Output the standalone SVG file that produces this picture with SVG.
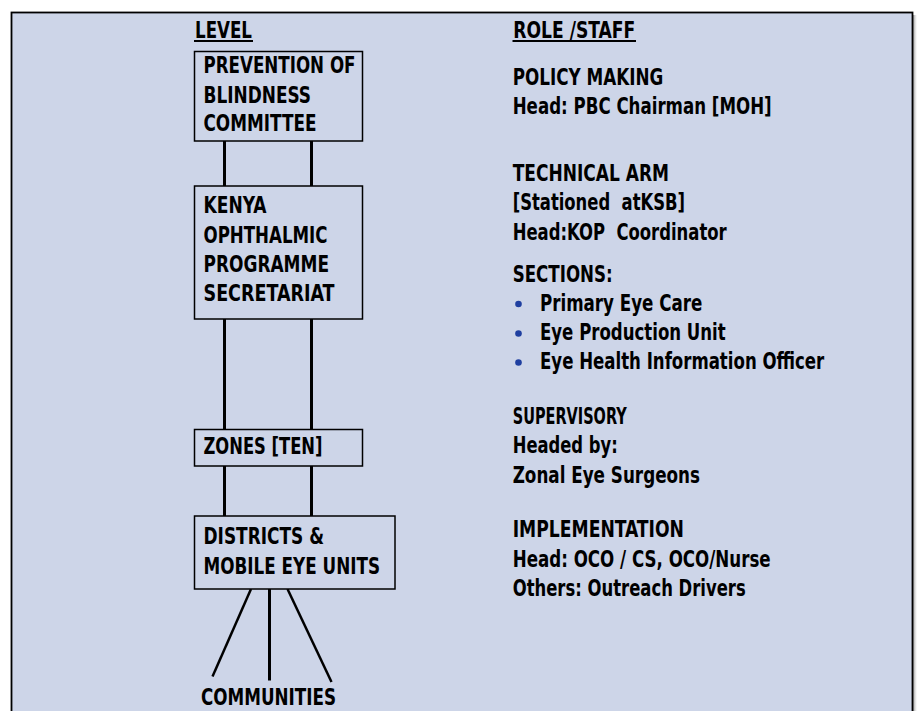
<svg xmlns="http://www.w3.org/2000/svg" width="917" height="711" viewBox="0 0 917 711">
<defs>
<linearGradient id="sh" x1="0" x2="1" y1="0" y2="0">
<stop offset="0" stop-color="#555" stop-opacity="0.6"/>
<stop offset="1" stop-color="#999" stop-opacity="0"/>
</linearGradient>
</defs>
<style>
text{font-family:"Liberation Sans Narrow","Arial Narrow","DejaVu Sans Condensed","Roboto Condensed","Liberation Sans",sans-serif;font-stretch:condensed;font-weight:bold;font-size:22.5px;fill:#000;white-space:pre}
.box{fill:#CDD5E8;stroke:#000;stroke-width:1.5}
.c{stroke:#000;stroke-width:3;fill:none}
.d{stroke:#000;stroke-width:2.5;fill:none}
.u{stroke:#000;stroke-width:2}
.b{fill:#1F3FA0}
</style>
<rect x="0" y="0" width="917" height="711" fill="#fff"/>
<rect x="913" y="15" width="4" height="696" fill="url(#sh)"/>
<rect x="11.5" y="12.5" width="901" height="710" fill="#CDD5E8" stroke="#000" stroke-width="1.8"/>

<g id="headers">
<text x="195" y="37.7" textLength="57" lengthAdjust="spacingAndGlyphs">LEVEL</text>
<line class="u" x1="194" y1="41" x2="253" y2="41"/>
<text x="513.3" y="37.7" textLength="122" lengthAdjust="spacingAndGlyphs">ROLE /STAFF</text>
<line class="u" x1="512.5" y1="41" x2="636" y2="41"/>
</g>

<g id="connectors">
<line class="c" x1="224.5" y1="141" x2="224.5" y2="186"/>
<line class="c" x1="311.5" y1="141" x2="311.5" y2="186"/>
<line class="c" x1="224.5" y1="319" x2="224.5" y2="429.5"/>
<line class="c" x1="311.5" y1="319" x2="311.5" y2="429.5"/>
<line class="c" x1="224.5" y1="466" x2="224.5" y2="516"/>
<line class="c" x1="311.5" y1="466" x2="311.5" y2="516"/>
<line class="d" x1="251" y1="589" x2="212.5" y2="676.5"/>
<line class="c" x1="269.5" y1="589" x2="269.5" y2="680.5"/>
<line class="d" x1="287.5" y1="589" x2="331.5" y2="682"/>
</g>

<g id="pbc">
<rect class="box" x="194.5" y="51.5" width="168" height="89.5"/>
<text x="203.5" y="73.3" textLength="152" lengthAdjust="spacingAndGlyphs">PREVENTION OF</text>
<text x="203.5" y="102.5" textLength="107.5" lengthAdjust="spacingAndGlyphs">BLINDNESS</text>
<text x="203.5" y="131" textLength="113" lengthAdjust="spacingAndGlyphs">COMMITTEE</text>
</g>

<g id="kop">
<rect class="box" x="194.5" y="186" width="168" height="133"/>
<text x="203.5" y="213.3" textLength="63" lengthAdjust="spacingAndGlyphs">KENYA</text>
<text x="203.5" y="242.5" textLength="124" lengthAdjust="spacingAndGlyphs">OPHTHALMIC</text>
<text x="203.5" y="271.7" textLength="125.5" lengthAdjust="spacingAndGlyphs">PROGRAMME</text>
<text x="203.5" y="300.7" textLength="131" lengthAdjust="spacingAndGlyphs">SECRETARIAT</text>
</g>

<g id="zones">
<rect class="box" x="194.5" y="429.5" width="168" height="36.5"/>
<text x="203.5" y="454.3" textLength="119" lengthAdjust="spacingAndGlyphs">ZONES [TEN]</text>
</g>

<g id="districts">
<rect class="box" x="194.5" y="516" width="200.5" height="73"/>
<text x="203.5" y="544.3" textLength="120.5" lengthAdjust="spacingAndGlyphs">DISTRICTS &amp;</text>
<text x="203.5" y="574" textLength="176.5" lengthAdjust="spacingAndGlyphs">MOBILE EYE UNITS</text>
</g>

<g id="communities">
<text x="201" y="705" textLength="135" lengthAdjust="spacingAndGlyphs">COMMUNITIES</text>
</g>

<g id="roles">
<text x="512.7" y="85" textLength="150.6" lengthAdjust="spacingAndGlyphs">POLICY MAKING</text>
<text x="512.7" y="114" textLength="259" lengthAdjust="spacingAndGlyphs">Head: PBC Chairman [MOH]</text>
<text x="512.7" y="180.7" textLength="156.3" lengthAdjust="spacingAndGlyphs">TECHNICAL ARM</text>
<text x="512.7" y="210" textLength="172.3" lengthAdjust="spacingAndGlyphs">[Stationed  atKSB]</text>
<text x="512.7" y="239.5" textLength="214" lengthAdjust="spacingAndGlyphs">Head:KOP  Coordinator</text>
<text x="512.7" y="281.7" textLength="100" lengthAdjust="spacingAndGlyphs">SECTIONS:</text>
<circle class="b" cx="518.5" cy="304" r="3.3"/>
<text x="540" y="310.7" textLength="162.3" lengthAdjust="spacingAndGlyphs">Primary Eye Care</text>
<circle class="b" cx="518.5" cy="333.5" r="3.3"/>
<text x="540" y="340" textLength="185.7" lengthAdjust="spacingAndGlyphs">Eye Production Unit</text>
<circle class="b" cx="518.5" cy="362.5" r="3.3"/>
<text x="540" y="369" textLength="284.3" lengthAdjust="spacingAndGlyphs">Eye Health Information Officer</text>
<text x="512.7" y="423.5" textLength="114" lengthAdjust="spacingAndGlyphs">SUPERVISORY</text>
<text x="512.7" y="453.3" textLength="105" lengthAdjust="spacingAndGlyphs">Headed by:</text>
<text x="512.7" y="483.3" textLength="187.3" lengthAdjust="spacingAndGlyphs">Zonal Eye Surgeons</text>
<text x="512.7" y="536.7" textLength="171.3" lengthAdjust="spacingAndGlyphs">IMPLEMENTATION</text>
<text x="512.7" y="566.7" textLength="258" lengthAdjust="spacingAndGlyphs">Head: OCO / CS, OCO/Nurse</text>
<text x="512.7" y="596" textLength="233" lengthAdjust="spacingAndGlyphs">Others: Outreach Drivers</text>
</g>
</svg>
